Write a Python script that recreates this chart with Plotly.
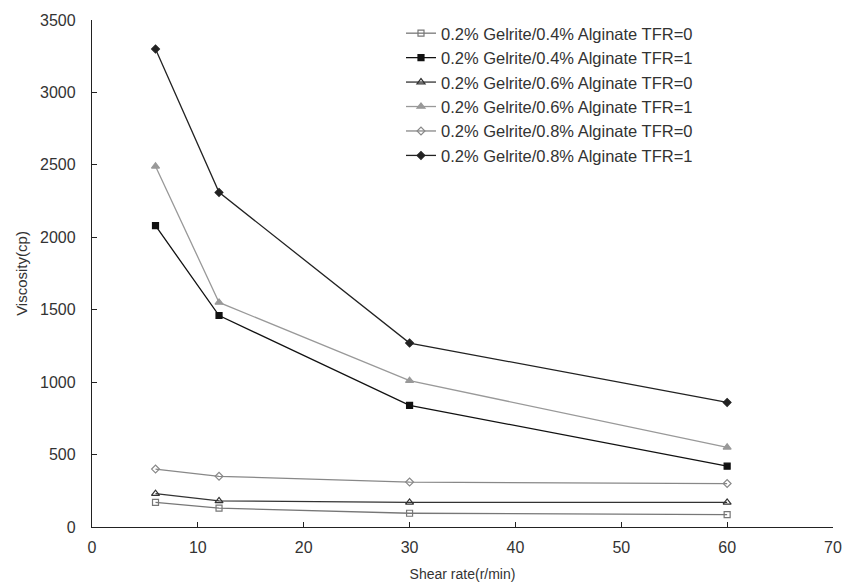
import plotly.graph_objects as go

shear_rate = [6, 12, 30, 60]
names = [
    "0.2% Gelrite/0.4% Alginate TFR=0",
    "0.2% Gelrite/0.4% Alginate TFR=1",
    "0.2% Gelrite/0.6% Alginate TFR=0",
    "0.2% Gelrite/0.6% Alginate TFR=1",
    "0.2% Gelrite/0.8% Alginate TFR=0",
    "0.2% Gelrite/0.8% Alginate TFR=1",
]
v_04_0 = [170, 130, 95, 85]
v_04_1 = [2080, 1460, 840, 420]
v_06_0 = [230, 180, 170, 170]
v_06_1 = [2490, 1550, 1010, 550]
v_08_0 = [400, 350, 310, 300]
v_08_1 = [3300, 2310, 1270, 860]
series = [v_04_0, v_04_1, v_06_0, v_06_1, v_08_0, v_08_1]

line_colors = ["#777777", "#111111", "#333333", "#999999", "#888888", "#222222"]
symbols = ["square-open", "square", "triangle-up-open", "triangle-up", "diamond-open", "diamond"]
sizes = [6, 6, 7, 7, 6, 6]

fig = go.Figure()
for name, vals, c, s, sz in zip(names, series, line_colors, symbols, sizes):
    fig.add_trace(go.Scatter(
        x=shear_rate, y=vals, name=name, mode="lines+markers",
        line=dict(color=c, width=1.3),
        marker=dict(symbol=s, size=sz, color=c, line=dict(color=c, width=1.2)),
    ))

axis_common = dict(
    showline=True, linecolor="#222222", linewidth=1.3,
    ticks="inside", ticklen=5, tickcolor="#222222", tickwidth=1,
    showgrid=False, zeroline=False, automargin=False,
    tickfont=dict(family="Liberation Sans, Arial", size=16, color="#333333"),
)

fig.update_layout(
    width=842, height=586,
    margin=dict(l=92, r=9, t=20, b=59),
    paper_bgcolor="white", plot_bgcolor="white",
    font=dict(family="Liberation Sans, Arial", size=14, color="#333333"),
    xaxis=dict(range=[0, 70], dtick=10, ticklabelstandoff=6,
               title=dict(text="Shear rate(r/min)", standoff=13, font=dict(size=14)),
               **axis_common),
    yaxis=dict(range=[0, 3500], dtick=500, ticklabelstandoff=12,
               title=dict(text="Viscosity(cp)", standoff=8, font=dict(size=15)),
               **axis_common),
    legend=dict(x=0.417, y=1.008, xanchor="left", yanchor="top",
                bgcolor="rgba(0,0,0,0)", font=dict(size=16.5, color="#333333"),
                tracegroupgap=0),
    showlegend=True,
)

fig.write_html("out.html")
